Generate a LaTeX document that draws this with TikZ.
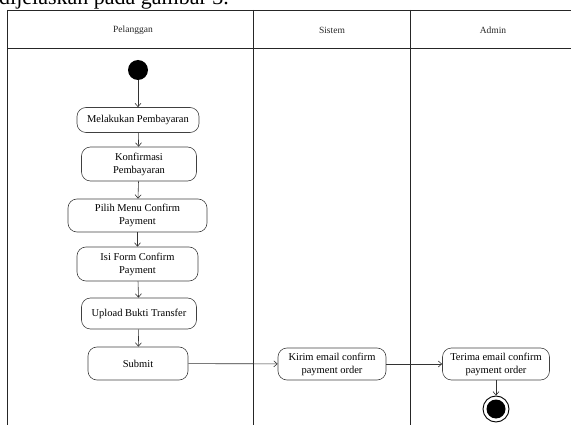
\documentclass[tikz,border=0pt]{standalone}
\usepackage{fontspec}
\setmainfont{Liberation Serif}
\usetikzlibrary{arrows.meta}

\tikzset{
  act/.style={draw=black!75, line width=0.6pt, rounded corners=9pt, align=center,
    inner sep=1pt, font=\fontsize{10.5}{13}\selectfont},
  flow/.style={draw=black!80, line width=0.6pt, -{Straight Barb[length=3.5pt,width=6pt]}},
  lane/.style={draw=black!85, line width=0.8pt},
  lanetitle/.style={font=\fontsize{9.5}{11}\selectfont, text=black!85},
}

\begin{document}
\begin{tikzpicture}[x=1pt,y=-1pt]
  \useasboundingbox (0,0) rectangle (571,425);
  \clip (0,0) rectangle (571,425);

  % running text of the page above the figure
  \node[anchor=base west, inner sep=0pt, font=\fontsize{22}{26}\selectfont]
    (caption) at (-1,5) {dijelaskan pada gambar 3.};

  % swimlane frame
  \draw[lane] (7,10) -- (571,10);
  \draw[lane] (7,48) -- (571,48);
  \draw[lane] (7,10) -- (7,425);
  \draw[lane] (253,10) -- (253,425);
  \draw[lane] (410,10) -- (410,425);

  \node[lanetitle] (lp) at (133,30) {Pelanggan};
  \node[lanetitle] (ls) at (332,30) {Sistem};
  \node[lanetitle] (la) at (493,30) {Admin};

  % Pelanggan lane
  \node[circle, fill=black, minimum size=20pt, inner sep=0pt] (start) at (138,70) {};
  \node[act, minimum width=122pt, minimum height=25pt] (m1) at (138,120) {Melakukan Pembayaran};
  \node[act, minimum width=115pt, minimum height=34pt] (m2) at (139,164) {Konfirmasi\\Pembayaran};
  \node[act, minimum width=139pt, minimum height=33pt] (m3) at (137.5,215.5) {Pilih Menu Confirm\\Payment};
  \node[act, minimum width=121pt, minimum height=34pt] (m4) at (137.5,264) {Isi Form Confirm\\Payment};
  \node[act, minimum width=115pt, minimum height=31pt] (m5) at (139,313.5) {Upload Bukti Transfer};
  \node[act, minimum width=100pt, minimum height=33pt] (m6) at (138,363.5) {Submit};

  % Sistem lane
  \node[act, minimum width=108pt, minimum height=32pt] (s1) at (332,364) {Kirim email confirm\\payment order};

  % Admin lane
  \node[act, minimum width=107pt, minimum height=32pt] (a1) at (496,364) {Terima email confirm\\payment order};
  \node[circle, draw=black, line width=0.9pt, minimum size=26pt, inner sep=0pt] (stop) at (496,409) {};
  \node[circle, fill=black, minimum size=19pt, inner sep=0pt] (stopdot) at (stop.center) {};

  % control flow
  \draw[flow] (start) -- (m1);
  \draw[flow] (m1) -- (m2);
  \draw[flow] (m2) -- (m3);
  \draw[flow] (m3) -- (m4);
  \draw[flow] (m4) -- (m5);
  \draw[flow] (m5) -- (m6);
  \draw[flow] (m6) -- (s1);
  \draw[flow] (s1) -- (a1);
  \draw[flow] (a1) -- (stop);
\end{tikzpicture}
\end{document}
